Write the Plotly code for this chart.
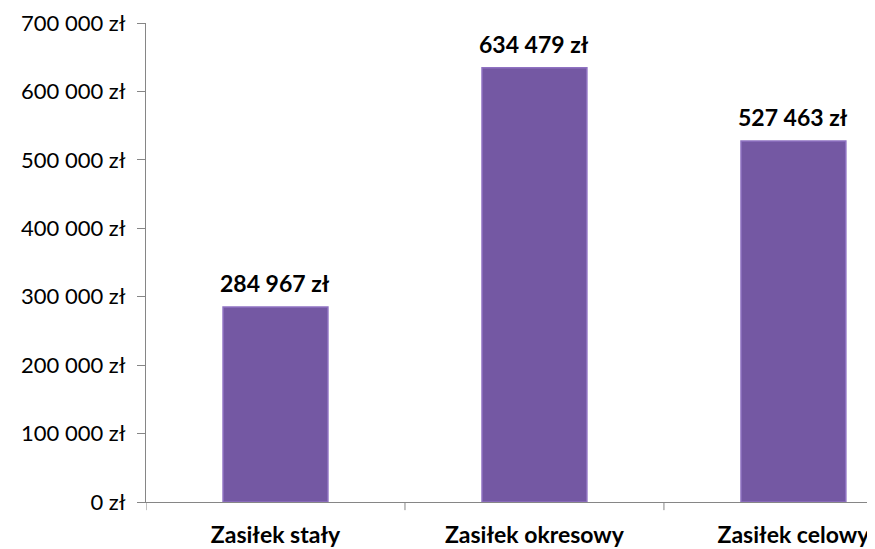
import plotly.graph_objects as go

categories = ["Zasiłek stały", "Zasiłek okresowy", "Zasiłek celowy"]
values = [284967, 634479, 527463]
tick_values = [0, 100000, 200000, 300000, 400000, 500000, 600000, 700000]


def fmt_pln(v):
    return f"{v:,.0f}".replace(",", " ") + " zł"


tick_text = [fmt_pln(v) for v in tick_values]

fig = go.Figure()
fig.add_trace(go.Bar(
    x=categories,
    y=values,
    width=0.405,
    marker=dict(color="#7458A3", line=dict(color="#8F72C2", width=1.5)),
    hoverinfo="skip",
))

for c, v in zip(categories, values):
    fig.add_annotation(
        x=c, y=v, xref="x", yref="y",
        text=fmt_pln(v), showarrow=False,
        yanchor="bottom", yshift=8,
        font=dict(family="Lato", size=23, color="#000000", weight="bold"),
    )

fig.update_layout(
    width=875, height=549,
    margin=dict(l=138, r=8, t=15, b=55, autoexpand=False),
    paper_bgcolor="white", plot_bgcolor="white",
    showlegend=False,
    font=dict(family="Lato", color="#000000"),
)
fig.update_xaxes(
    range=[-0.5, 2.315],
    showline=True, linecolor="#868686", linewidth=1,
    showgrid=False,
    ticks="",
    ticklabelstandoff=12,
    tickfont=dict(family="Lato", size=23, weight="bold", color="#000000"),
)
fig.update_yaxes(
    range=[0, 700000],
    tickvals=tick_values,
    ticktext=tick_text,
    showline=True, linecolor="#868686", linewidth=1,
    showgrid=False, zeroline=False,
    ticks="outside", ticklen=8, tickcolor="#868686",
    ticklabelstandoff=7,
    tickfont=dict(family="Lato", size=22, color="#000000"),
)
# category boundary tick marks on the x-axis
for b in [-0.5, 0.5, 1.5]:
    fig.add_shape(type="line", xref="x", yref="paper", x0=b, x1=b, y0=0, y1=-0.017,
                  line=dict(color="#868686", width=1))

fig.write_html("out.html")
